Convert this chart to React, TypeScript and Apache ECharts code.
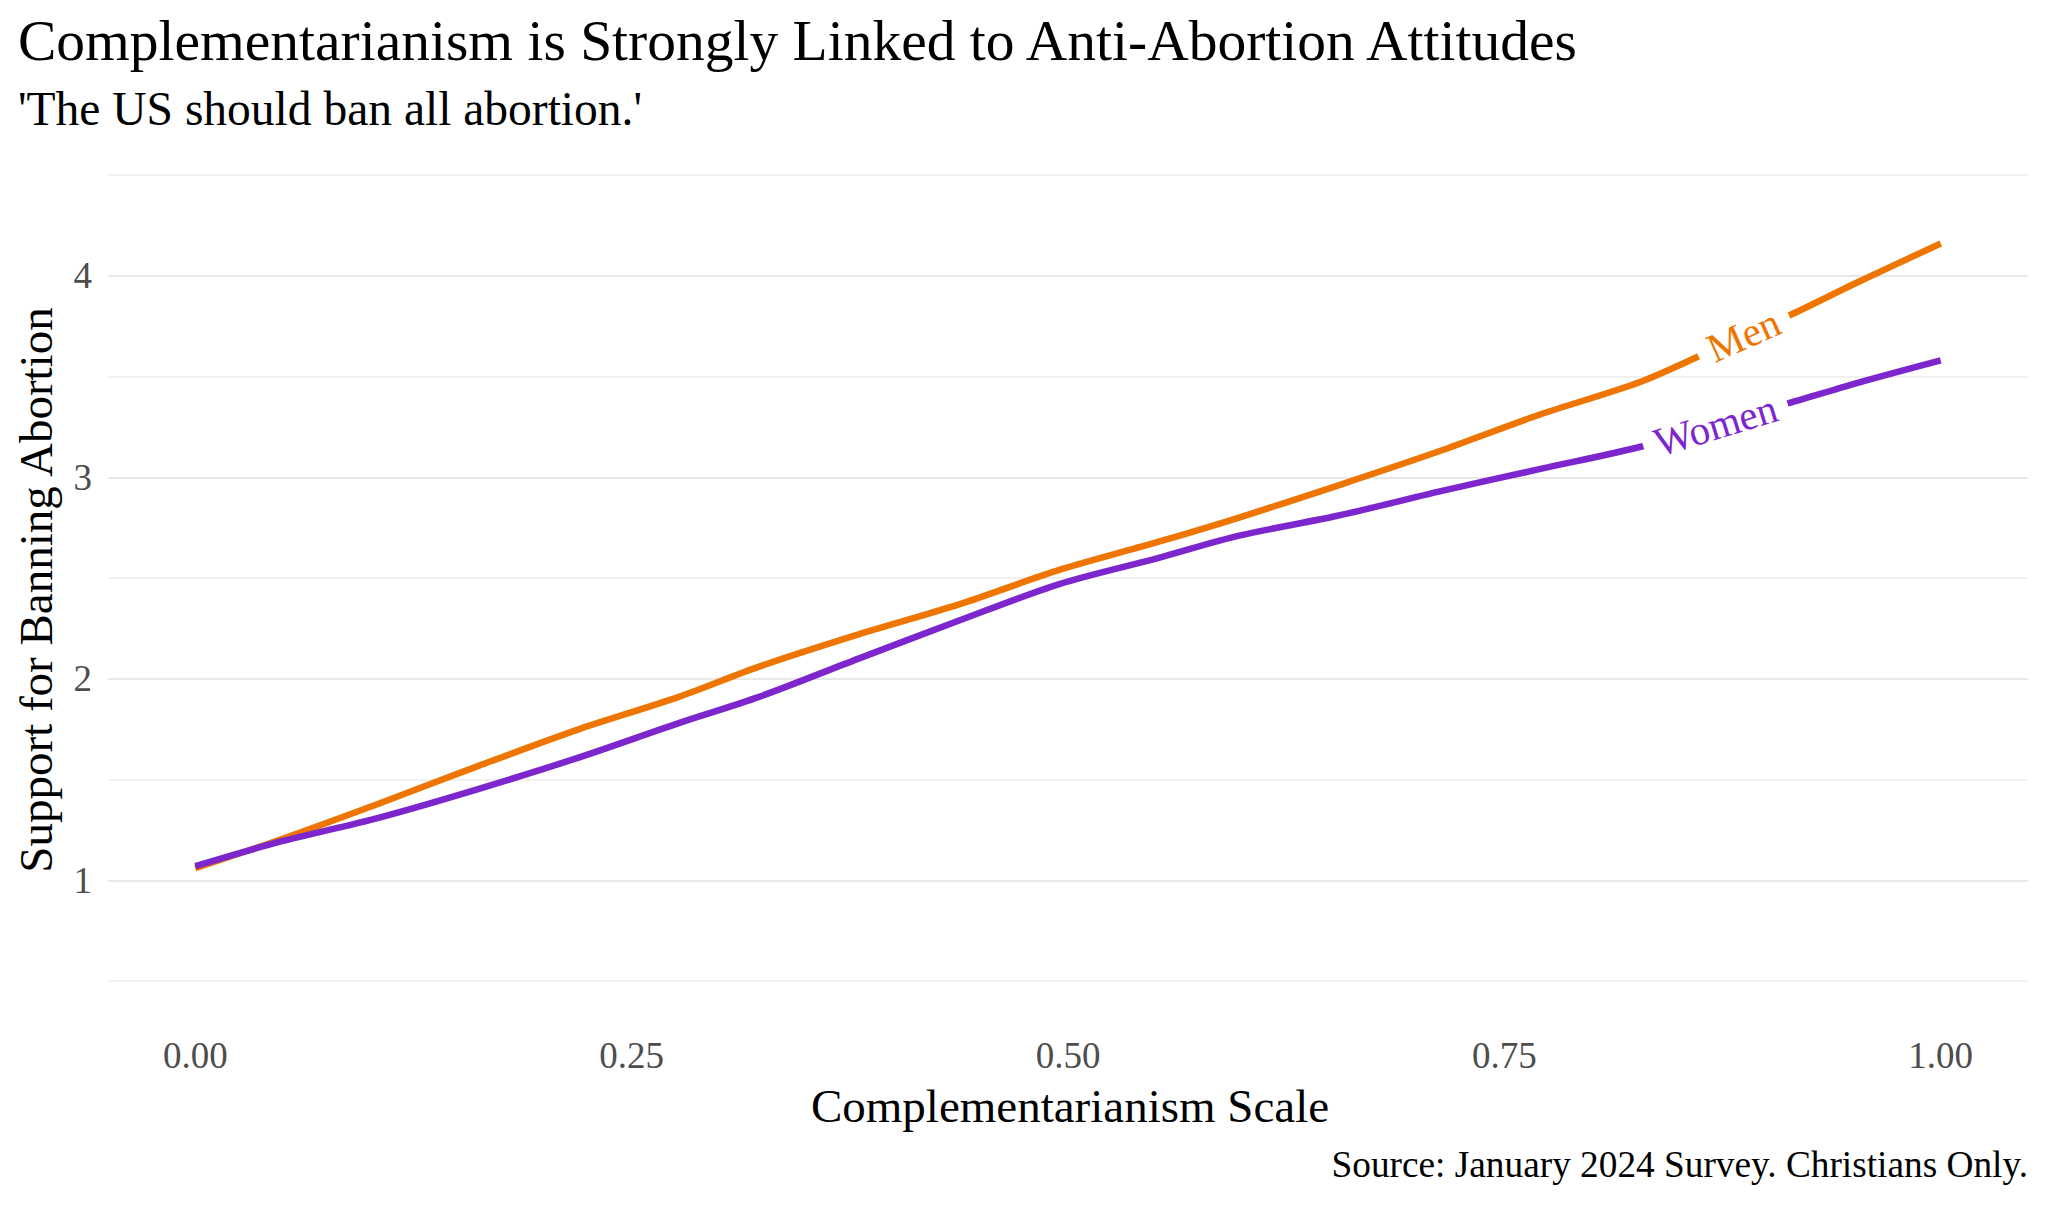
import React, { useEffect, useRef } from "react";
import * as echarts from "echarts";

const xMen = [0, 0.048, 0.105, 0.163, 0.22, 0.277, 0.323, 0.38, 0.438, 0.495, 0.552, 0.598, 0.655, 0.713, 0.77, 0.827, 0.864, 0.915, 0.953, 1.0];
const yMen = [1.06, 1.2, 1.38, 1.57, 1.75, 1.91, 2.06, 2.22, 2.37, 2.54, 2.68, 2.8, 2.96, 3.13, 3.31, 3.47, 3.61, 3.81, 3.97, 4.16];
const xWomen = [0, 0.048, 0.105, 0.163, 0.22, 0.277, 0.323, 0.38, 0.438, 0.495, 0.552, 0.598, 0.655, 0.713, 0.77, 0.832, 0.914, 0.953, 1.0];
const yWomen = [1.07, 1.19, 1.31, 1.455, 1.61, 1.78, 1.91, 2.1, 2.29, 2.47, 2.6, 2.71, 2.81, 2.93, 3.04, 3.16, 3.37, 3.47, 3.58];

const xTicks = [0, 0.25, 0.5, 0.75, 1];
const yTicks = [1, 2, 3, 4];

const seriesNames = ["Men", "Women"];
const labelX = [0.887, 0.871];
const labelY = [3.705, 3.258];

const MEN_COLOR = "#EE7600";
const WOMEN_COLOR = "#7D26CD";
const FONT = '"Liberation Serif", "DejaVu Serif", serif';

export default function App() {
  const ref = useRef<HTMLDivElement>(null);
  useEffect(() => {
    if (!ref.current) return;
    const chart = echarts.init(ref.current, null, { renderer: "svg" });
    const menData = xMen.map((x, i) => [x, yMen[i]]);
    const womenData = xWomen.map((x, i) => [x, yWomen[i]]);
    const colors = [MEN_COLOR, WOMEN_COLOR];
    const angles = [24, 17];

    const labelSeries = seriesNames.map((name, i) => ({
      type: "custom",
      coordinateSystem: "cartesian2d",
      silent: true,
      z: 10,
      data: [[labelX[i], labelY[i]]],
      renderItem: (params: any, api: any) => {
        const p = api.coord([api.value(0), api.value(1)]);
        return {
          type: "text",
          x: p[0],
          y: p[1],
          rotation: (angles[i] * Math.PI) / 180,
          style: {
            text: name,
            fill: colors[i],
            fontSize: 41,
            fontFamily: FONT,
            align: "center",
            verticalAlign: "middle",
            backgroundColor: "#ffffff",
            padding: [0, 12, 0, 12],
          },
        };
      },
    }));

    chart.setOption({
      animation: false,
      backgroundColor: "#ffffff",
      grid: { left: 108, right: 20, top: 175, bottom: 227, containLabel: false },
      xAxis: {
        type: "value",
        min: -0.05,
        max: 1.05,
        axisLine: { show: false },
        axisTick: { show: false },
        splitLine: { show: false },
        axisLabel: {
          customValues: xTicks,
          formatter: (v: number) => v.toFixed(2),
          color: "#4d4d4d",
          fontSize: 37,
          fontFamily: FONT,
          margin: 56,
        },
      },
      yAxis: {
        type: "value",
        min: 0.5,
        max: 4.5,
        interval: 0.5,
        axisLine: { show: false },
        axisTick: { show: false },
        axisLabel: {
          formatter: (v: number) => (yTicks.indexOf(v) >= 0 ? String(v) : ""),
          color: "#4d4d4d",
          fontSize: 37,
          fontFamily: FONT,
          margin: 16,
        },
        splitLine: {
          show: true,
          lineStyle: { color: ["#f0f0f0", "#e8e8e8"], width: 2.2 },
        },
      },
      series: [
        {
          name: "Men",
          type: "line",
          data: menData,
          showSymbol: false,
          smooth: 0.3,
          lineStyle: { color: MEN_COLOR, width: 6.5 },
          z: 3,
        },
        {
          name: "Women",
          type: "line",
          data: womenData,
          showSymbol: false,
          smooth: 0.3,
          lineStyle: { color: WOMEN_COLOR, width: 6.5 },
          z: 4,
        },
        ...labelSeries,
      ],
      graphic: [
        {
          type: "text",
          x: 18,
          y: 40,
          style: {
            text: "Complementarianism is Strongly Linked to Anti-Abortion Attitudes",
            fill: "#000000",
            fontSize: 57.5,
            fontFamily: FONT,
            align: "left",
            verticalAlign: "middle",
          },
        },
        {
          type: "text",
          x: 18,
          y: 109,
          style: {
            text: "'The US should ban all abortion.'",
            fill: "#000000",
            fontSize: 47.5,
            fontFamily: FONT,
            align: "left",
            verticalAlign: "middle",
          },
        },
        {
          type: "text",
          x: 36,
          y: 590,
          rotation: Math.PI / 2,
          style: {
            text: "Support for Banning Abortion",
            fill: "#000000",
            fontSize: 47,
            fontFamily: FONT,
            align: "center",
            verticalAlign: "middle",
          },
        },
        {
          type: "text",
          x: 1070,
          y: 1106,
          style: {
            text: "Complementarianism Scale",
            fill: "#000000",
            fontSize: 47,
            fontFamily: FONT,
            align: "center",
            verticalAlign: "middle",
          },
        },
        {
          type: "text",
          x: 2028,
          y: 1164,
          style: {
            text: "Source: January 2024 Survey. Christians Only.",
            fill: "#000000",
            fontSize: 37.3,
            fontFamily: FONT,
            align: "right",
            verticalAlign: "middle",
          },
        },
      ],
    });
    return () => chart.dispose();
  }, []);
  return (
    <div
      ref={ref}
      style={{ position: "fixed", left: 0, top: 0, width: 2048, height: 1208, background: "#fff" }}
    />
  );
}
